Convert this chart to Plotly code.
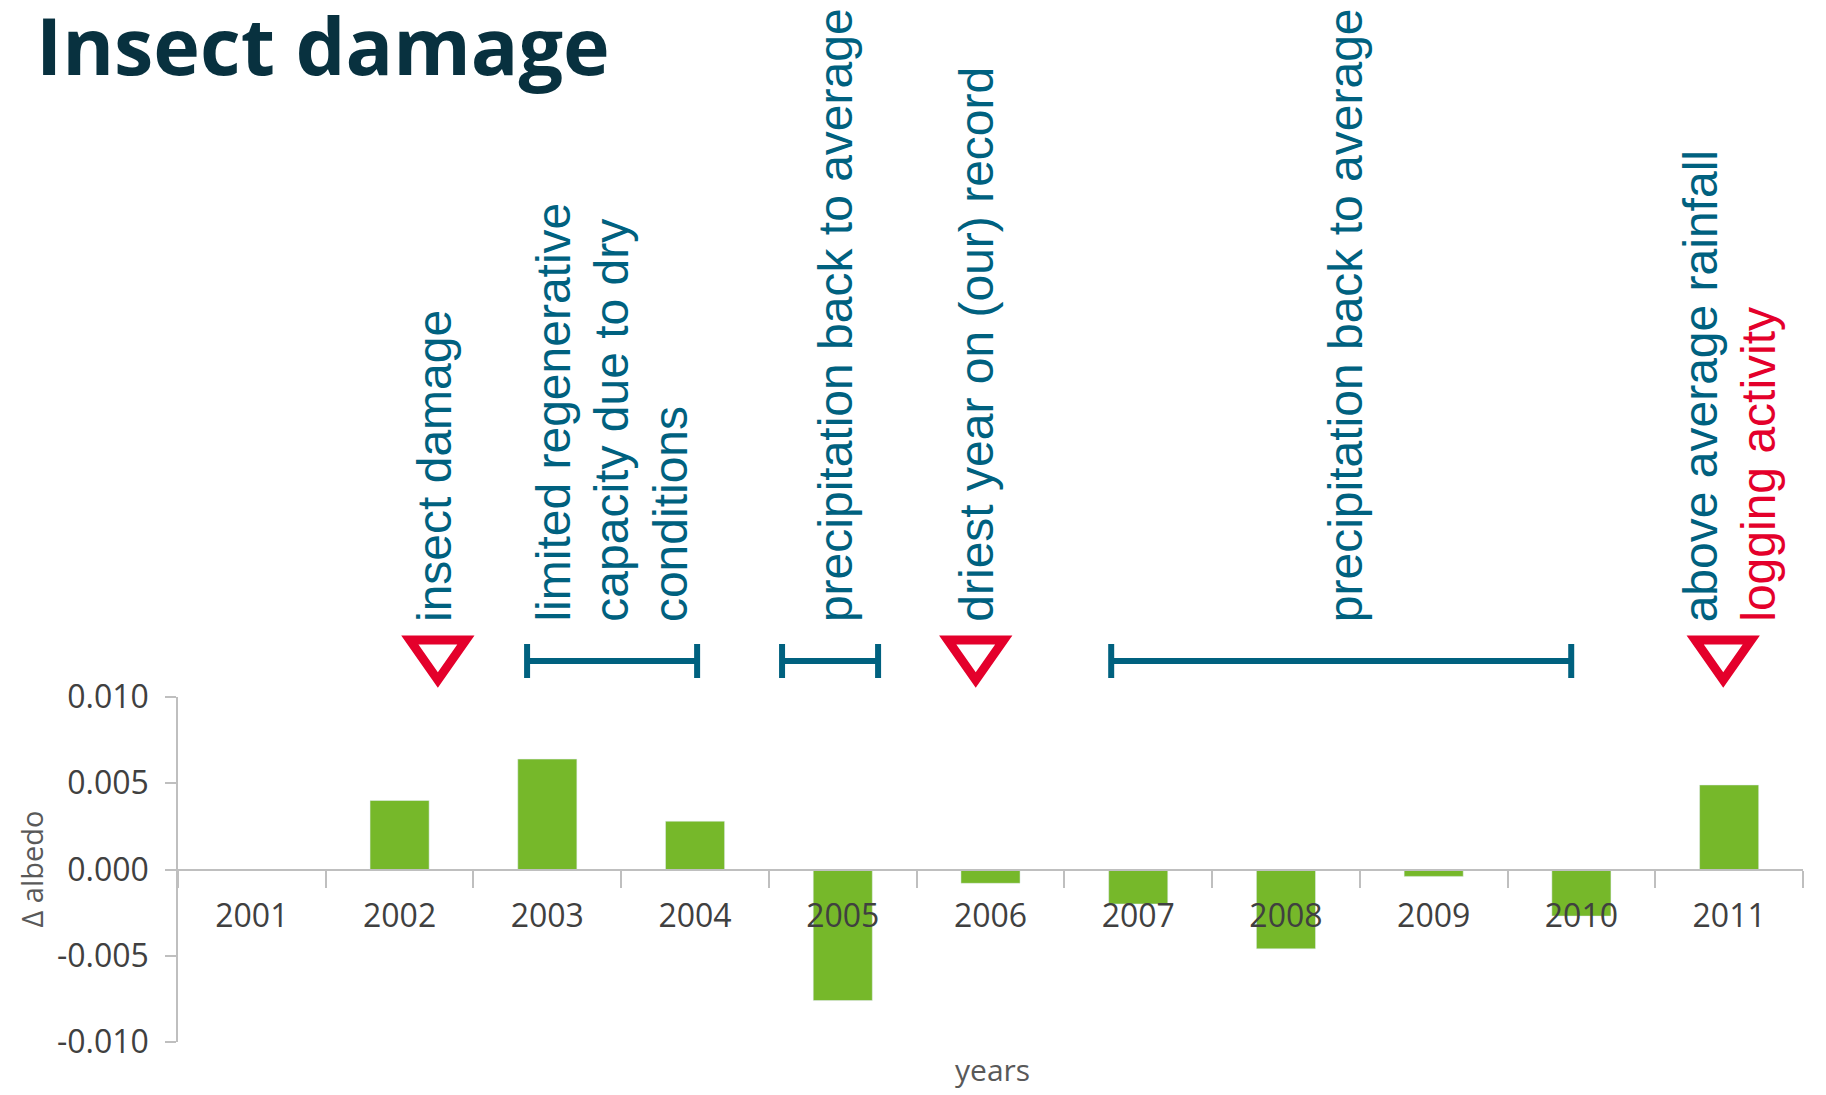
import plotly.graph_objects as go

# ---- data ----
years = ["2001", "2002", "2003", "2004", "2005", "2006",
         "2007", "2008", "2009", "2010", "2011"]
delta_albedo = [0.0, 0.0040, 0.0064, 0.0028, -0.0076, -0.0008,
                -0.0020, -0.0046, -0.0004, -0.0027, 0.0049]
y_ticks = [-0.010, -0.005, 0.0, 0.005, 0.010]
y_tick_labels = ["-0.010", "-0.005", "0.000", "0.005", "0.010"]

note_texts = ["insect damage",
              "limited regenerative", "capacity due to dry", "conditions",
              "precipitation back to average",
              "driest year on (our) record",
              "precipitation back to average",
              "above average rainfall", "logging activity"]
note_idx = [1.233, 2.039, 2.432, 2.831, 3.948, 4.903, 7.401, 9.805, 10.197]
note_red = [False, False, False, False, False, False, False, False, True]

triangle_idx = [1.259, 4.90, 9.96]
bracket_spans = [(1.863, 3.014), (3.589, 4.239), (5.817, 8.931)]

# ---- layout geometry (page has an 8px body margin) ----
OFF = 8
W, H = 1826 - OFF, 1095 - OFF
L, R, T, B = 178 - OFF, 23, 697 - OFF, 53
plot_w = W - L - R
plot_h = H - T - B
PL = L + OFF            # plot left in page px
PB = H - B + OFF        # plot bottom in page px

TEAL = "#00617f"
RED = "#e4002b"
GREEN = "#76b82a"
AX = "#bfbfbf"


def px_x(px):
    return (px - PL) / plot_w


def px_y(py):
    return (PB - py) / plot_h


def idx_x(i):
    return (i + 0.5) / len(years)


fig = go.Figure(go.Bar(x=years, y=delta_albedo, marker_color=GREEN,
                       width=0.4, hoverinfo="skip"))

annotations = []
shapes = []

for txt, i, red in zip(note_texts, note_idx, note_red):
    annotations.append(dict(
        text=txt, x=idx_x(i), y=px_y(623), xref="paper", yref="paper",
        xanchor="center", yanchor="bottom", textangle=-90, showarrow=False,
        borderpad=0,
        font=dict(family="Liberation Sans, Arial", size=48,
                  color=RED if red else TEAL)))

for i in triangle_idx:
    cx = idx_x(i)
    hw = 28 / plot_w
    y_top = px_y(640)
    y_bot = px_y(680)
    shapes.append(dict(
        type="path", xref="paper", yref="paper",
        path=f"M {cx - hw},{y_top} L {cx + hw},{y_top} L {cx},{y_bot} Z",
        line=dict(color=RED, width=9), fillcolor="rgba(0,0,0,0)"))

for a, b in bracket_spans:
    x0, x1 = idx_x(a), idx_x(b)
    ym = px_y(661)
    shapes.append(dict(type="line", xref="paper", yref="paper",
                       x0=x0, x1=x1, y0=ym, y1=ym,
                       line=dict(color=TEAL, width=6)))
    for xx in (x0, x1):
        shapes.append(dict(type="line", xref="paper", yref="paper",
                           x0=xx, x1=xx, y0=px_y(644), y1=px_y(678),
                           line=dict(color=TEAL, width=6)))

# axis titles
annotations.append(dict(text="Δ albedo", x=px_x(31), y=0.5, xref="paper",
                        yref="paper", textangle=-90, showarrow=False,
                        xanchor="center", yanchor="middle",
                        font=dict(family="Open Sans", size=29, color="#595959")))
annotations.append(dict(text="years", x=px_x(992), y=px_y(1069), xref="paper",
                        yref="paper", showarrow=False,
                        xanchor="center", yanchor="middle",
                        font=dict(family="Open Sans", size=30, color="#595959")))
# main title
annotations.append(dict(text="<b>Insect damage</b>", x=px_x(35), y=px_y(44),
                        xref="paper", yref="paper", showarrow=False,
                        xanchor="left", yanchor="middle", borderpad=0,
                        font=dict(family="Open Sans", size=79, color="#08313f")))

fig.update_layout(
    width=W, height=H,
    margin=dict(l=L, r=R, t=T, b=B, autoexpand=False),
    paper_bgcolor="white", plot_bgcolor="white",
    showlegend=False,
    annotations=annotations,
    shapes=shapes,
    xaxis=dict(type="category", categoryorder="array", categoryarray=years,
               range=[-0.5, len(years) - 0.5],
               anchor="free", position=0.5,
               showline=True, linecolor=AX, linewidth=2,
               ticks="outside", tickson="boundaries", ticklen=17,
               tickwidth=1.5, tickcolor=AX,
               tickfont=dict(family="Open Sans", size=32, color="#404040"),
               ticklabelstandoff=18,
               showgrid=False, zeroline=False, fixedrange=True),
    yaxis=dict(range=[-0.010, 0.010], tickvals=y_ticks, ticktext=y_tick_labels,
               showline=True, linecolor=AX, linewidth=1.5,
               ticks="outside", ticklen=11, tickwidth=1.5, tickcolor=AX,
               tickfont=dict(family="Open Sans", size=32, color="#404040"),
               ticklabelstandoff=10,
               showgrid=False, zeroline=False, fixedrange=True),
)

fig.write_html("out.html")
